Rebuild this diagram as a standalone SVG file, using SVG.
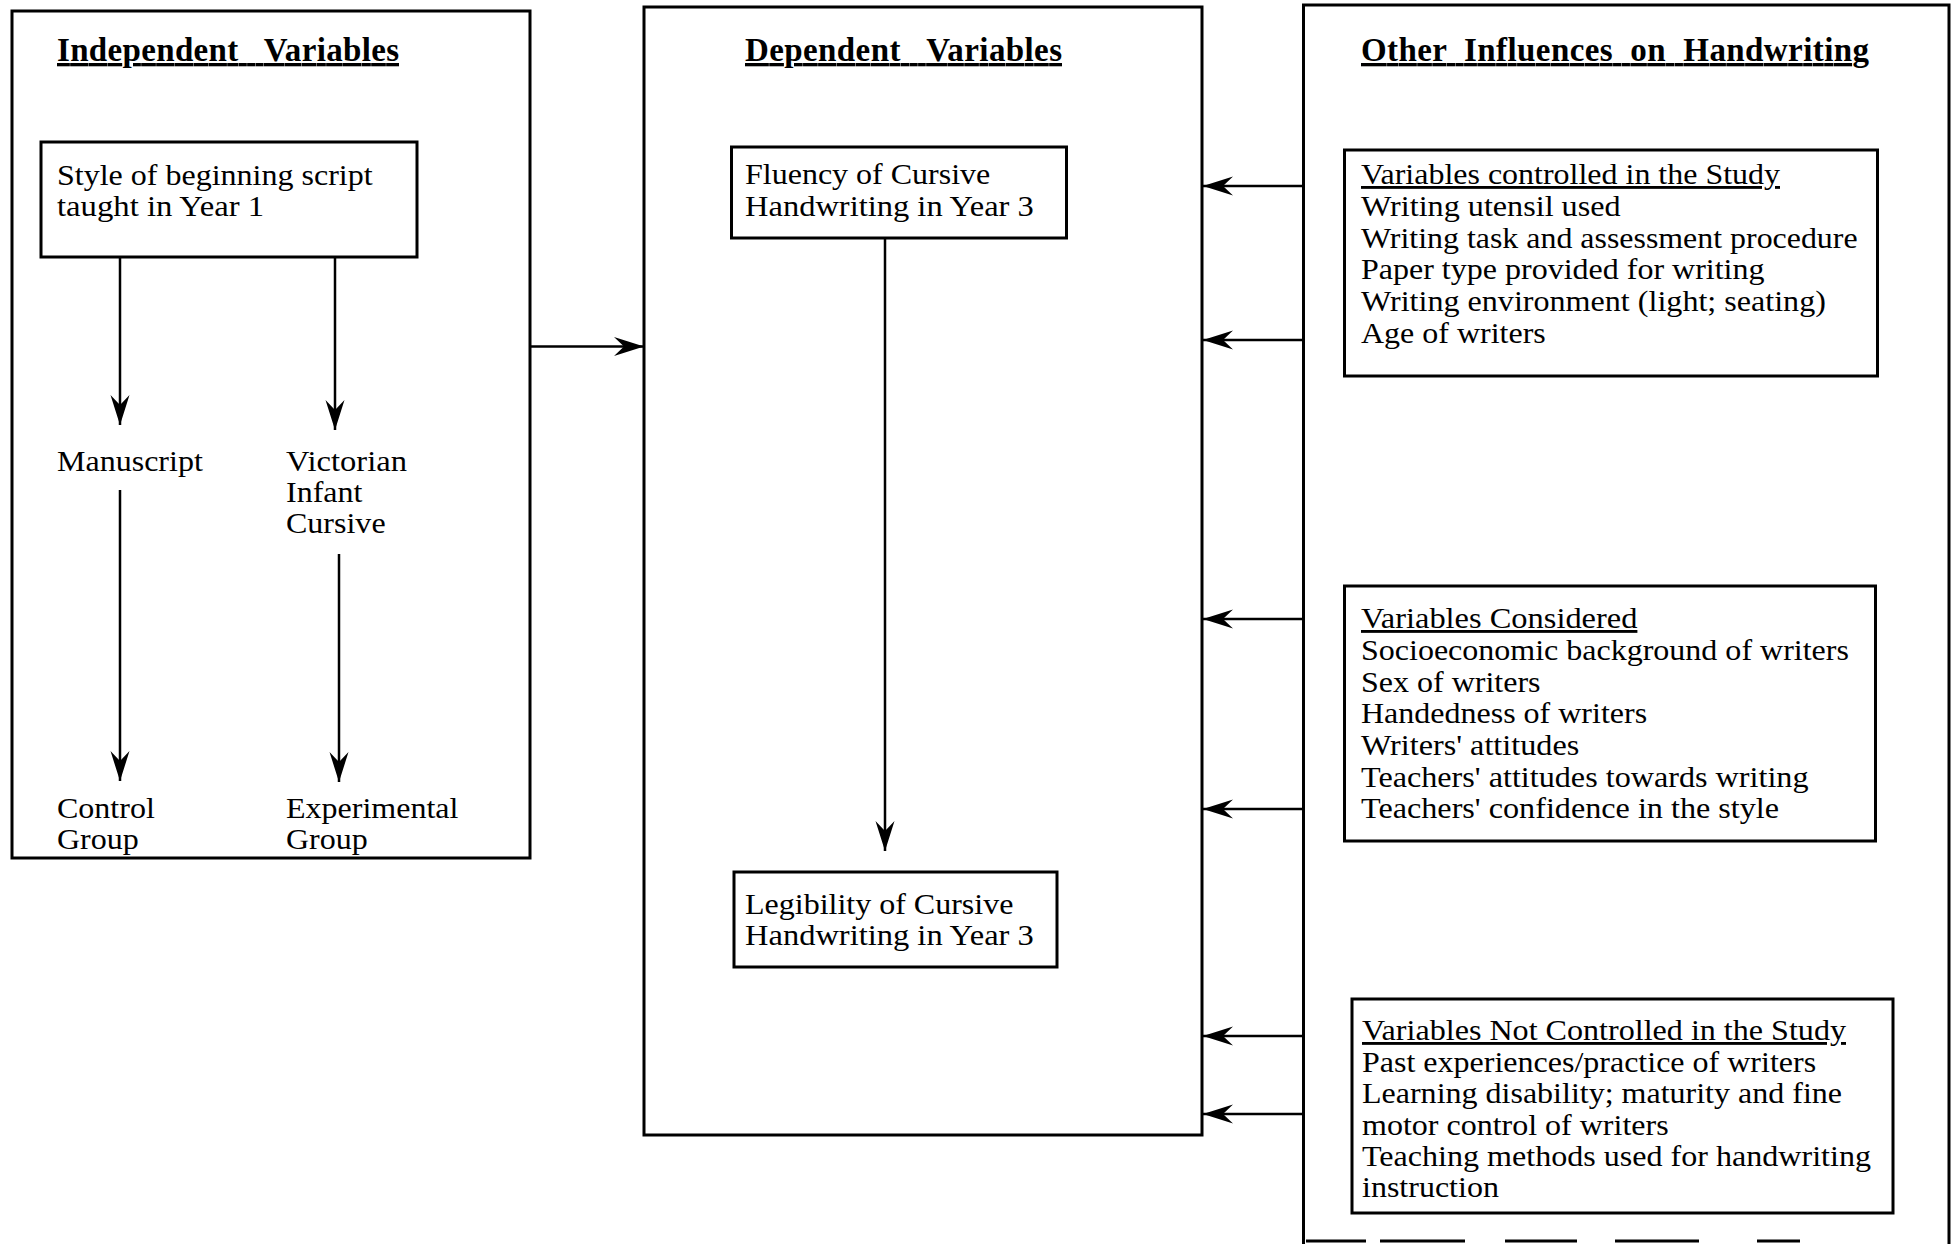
<svg xmlns="http://www.w3.org/2000/svg" width="1954" height="1244" viewBox="0 0 1954 1244">
<style>
.box{fill:none;stroke:#000;stroke-width:3}
.con{fill:none;stroke:#000;stroke-width:2.5}
text{font-family:"Liberation Serif","Times New Roman",serif;font-size:28.5px;fill:#000}
.title{font-size:33px;font-weight:bold;text-decoration:underline}
.u{text-decoration:underline}
</style>
<defs>
<marker id="ah" viewBox="-32 -11 34 22" refX="0" refY="0" markerWidth="34" markerHeight="22" markerUnits="userSpaceOnUse" orient="auto">
<path d="M0,0 L-30,-9.5 L-20,0 L-30,9.5 Z" fill="#000"/>
</marker>
</defs>
<rect width="1954" height="1244" fill="#fff"/>

<g id="independent">
<rect class="box" x="12" y="11" width="518" height="847"/>
<text class="title" x="57" y="61" xml:space="preserve" textLength="342">Independent   Variables</text>
</g>
<g id="style-script">
<rect class="box" x="41" y="142" width="376" height="115"/>
<text x="57" y="185" textLength="315.6" lengthAdjust="spacingAndGlyphs">Style of beginning script</text>
<text x="57" y="216" textLength="207.1" lengthAdjust="spacingAndGlyphs">taught in Year 1</text>
</g>
<g id="manuscript"><text x="57" y="471" textLength="145.8" lengthAdjust="spacingAndGlyphs">Manuscript</text></g>
<g id="victorian">
<text x="286" y="471" textLength="120.9" lengthAdjust="spacingAndGlyphs">Victorian</text>
<text x="286" y="502" textLength="76.4" lengthAdjust="spacingAndGlyphs">Infant</text>
<text x="286" y="533" textLength="99.6" lengthAdjust="spacingAndGlyphs">Cursive</text>
</g>
<g id="control">
<text x="57" y="818" textLength="97.8" lengthAdjust="spacingAndGlyphs">Control</text>
<text x="57" y="849" textLength="81.8" lengthAdjust="spacingAndGlyphs">Group</text>
</g>
<g id="experimental">
<text x="286" y="818" textLength="172.4" lengthAdjust="spacingAndGlyphs">Experimental</text>
<text x="286" y="849" textLength="81.8" lengthAdjust="spacingAndGlyphs">Group</text>
</g>

<g id="dependent">
<rect class="box" x="644" y="7" width="558" height="1128"/>
<text class="title" x="745" y="61" xml:space="preserve" textLength="317">Dependent   Variables</text>
</g>
<g id="fluency">
<rect class="box" x="731.5" y="147" width="335" height="91"/>
<text x="745" y="184" textLength="245.3" lengthAdjust="spacingAndGlyphs">Fluency of Cursive</text>
<text x="745" y="216" textLength="288.8" lengthAdjust="spacingAndGlyphs">Handwriting in Year 3</text>
</g>
<g id="legibility">
<rect class="box" x="734" y="872" width="323" height="95"/>
<text x="745" y="914" textLength="268.4" lengthAdjust="spacingAndGlyphs">Legibility of Cursive</text>
<text x="745" y="945" textLength="288.8" lengthAdjust="spacingAndGlyphs">Handwriting in Year 3</text>
</g>

<g id="other">
<path class="box" d="M1303.5,1244 V5 H1949 V1244"/>
<line x1="1306" y1="1241" x2="1800" y2="1241" stroke="#000" stroke-width="3" stroke-dasharray="60 14 85 40 72 38 84 58"/>
<text class="title" x="1361" y="61" xml:space="preserve" textLength="508">Other  Influences  on  Handwriting</text>
</g>
<g id="controlled">
<rect class="box" x="1344.5" y="150" width="533" height="226"/>
<text class="u" x="1361" y="184" textLength="419" lengthAdjust="spacingAndGlyphs">Variables controlled in the Study</text>
<text x="1361" y="216" textLength="259.6" lengthAdjust="spacingAndGlyphs">Writing utensil used</text>
<text x="1361" y="247.5" textLength="496.6" lengthAdjust="spacingAndGlyphs">Writing task and assessment procedure</text>
<text x="1361" y="279" textLength="403.5" lengthAdjust="spacingAndGlyphs">Paper type provided for writing</text>
<text x="1361" y="311" textLength="464.9" lengthAdjust="spacingAndGlyphs">Writing environment (light; seating)</text>
<text x="1361" y="343" textLength="184.8" lengthAdjust="spacingAndGlyphs">Age of writers</text>
</g>
<g id="considered">
<rect class="box" x="1344.5" y="586" width="531" height="255"/>
<text class="u" x="1361" y="628" textLength="276.4" lengthAdjust="spacingAndGlyphs">Variables Considered</text>
<text x="1361" y="660" textLength="487.9" lengthAdjust="spacingAndGlyphs">Socioeconomic background of writers</text>
<text x="1361" y="692" textLength="179.5" lengthAdjust="spacingAndGlyphs">Sex of writers</text>
<text x="1361" y="723" textLength="286.1" lengthAdjust="spacingAndGlyphs">Handedness of writers</text>
<text x="1361" y="755" textLength="218.2" lengthAdjust="spacingAndGlyphs">Writers' attitudes</text>
<text x="1361" y="786.5" textLength="447.5" lengthAdjust="spacingAndGlyphs">Teachers' attitudes towards writing</text>
<text x="1361" y="818" textLength="418.1" lengthAdjust="spacingAndGlyphs">Teachers' confidence in the style</text>
</g>
<g id="not-controlled">
<rect class="box" x="1352" y="999" width="541" height="214"/>
<text class="u" x="1362" y="1040" textLength="484" lengthAdjust="spacingAndGlyphs">Variables Not Controlled in the Study</text>
<text x="1362" y="1072" textLength="454.1" lengthAdjust="spacingAndGlyphs">Past experiences/practice of writers</text>
<text x="1362" y="1103" textLength="480" lengthAdjust="spacingAndGlyphs">Learning disability; maturity and fine</text>
<text x="1362" y="1135" textLength="306.6" lengthAdjust="spacingAndGlyphs">motor control of writers</text>
<text x="1362" y="1166" textLength="509" lengthAdjust="spacingAndGlyphs">Teaching methods used for handwriting</text>
<text x="1362" y="1197" textLength="136.9" lengthAdjust="spacingAndGlyphs">instruction</text>
</g>

<g id="connectors">
<line class="con" x1="120" y1="257" x2="120" y2="425" marker-end="url(#ah)"/>
<line class="con" x1="335" y1="257" x2="335" y2="430" marker-end="url(#ah)"/>
<line class="con" x1="120" y1="490" x2="120" y2="781" marker-end="url(#ah)"/>
<line class="con" x1="339" y1="554" x2="339" y2="782" marker-end="url(#ah)"/>
<line class="con" x1="530" y1="346.5" x2="644" y2="346.5" marker-end="url(#ah)"/>
<line class="con" x1="885" y1="238" x2="885" y2="851" marker-end="url(#ah)"/>
<line class="con" x1="1303.5" y1="186" x2="1203" y2="186" marker-end="url(#ah)"/>
<line class="con" x1="1303.5" y1="340" x2="1203" y2="340" marker-end="url(#ah)"/>
<line class="con" x1="1303.5" y1="619" x2="1203" y2="619" marker-end="url(#ah)"/>
<line class="con" x1="1303.5" y1="809" x2="1203" y2="809" marker-end="url(#ah)"/>
<line class="con" x1="1303.5" y1="1036" x2="1203" y2="1036" marker-end="url(#ah)"/>
<line class="con" x1="1303.5" y1="1114" x2="1203" y2="1114" marker-end="url(#ah)"/>
</g>
</svg>
